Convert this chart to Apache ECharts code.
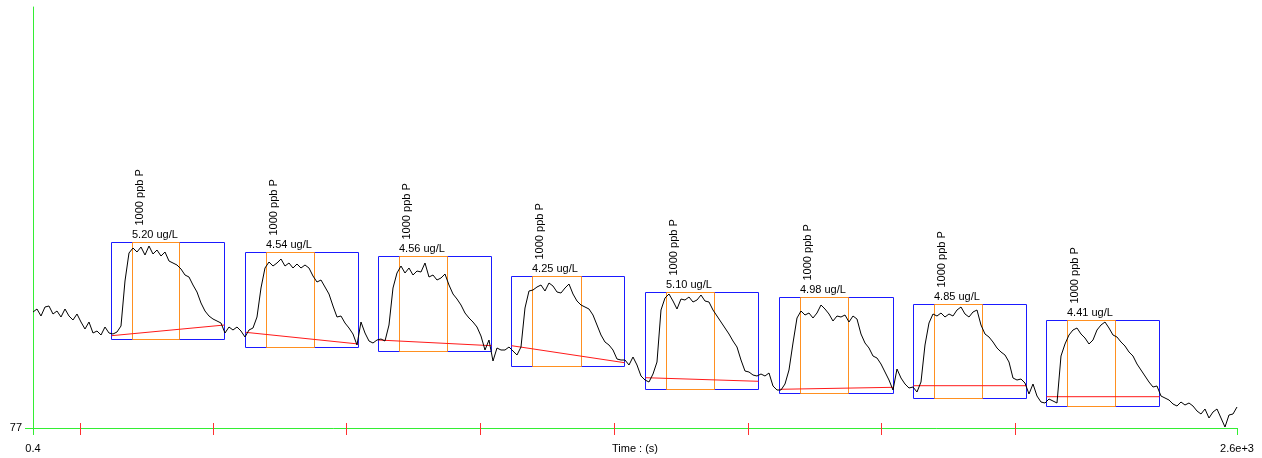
<!DOCTYPE html>
<html>
<head>
<meta charset="utf-8">
<title>Time : (s)</title>
<script src="https://cdn.jsdelivr.net/npm/echarts@6/dist/echarts.min.js"></script>
<style>
  html, body { margin: 0; padding: 0; background: #fff; }
  #chart { width: 1262px; height: 458px; }
</style>
</head>
<body>
<div id="chart"></div>
<script>
// Signal trace, sampled every timeStep seconds starting at startTime
const startTime = 0.4;
const timeStep = 8.6365;
const signal = [
  193,196,189,198,199,191,194,188,196,189,
  185,191,183,176,183,172,174,170,178,172,
  171,173,179,224,252,257,253,258,250,259,
  251,255,249,253,244,242,240,236,230,228,
  220,213,202,194,189,186,184,182,172,178,
  175,178,174,168,175,177,188,217,237,243,
  239,242,246,239,242,237,241,237,240,237,
  229,223,225,218,211,199,188,189,182,177,
  171,160,183,172,164,162,165,166,164,180,
  217,232,239,232,237,230,234,233,242,228,
  230,225,227,231,220,211,206,200,192,187,
  183,178,169,155,165,144,157,155,155,158,
  154,150,158,197,214,215,218,220,214,222,
  219,213,212,217,221,211,204,200,198,196,
  190,180,170,163,160,155,146,145,145,140,
  148,140,129,125,123,131,143,195,207,211,
  204,196,206,205,208,203,205,210,204,203,
  195,189,183,177,171,164,158,145,134,133,
  130,129,131,129,132,119,115,115,121,135,
  162,187,194,190,192,187,192,200,196,191,
  184,189,188,190,183,189,186,171,162,157,
  149,147,141,133,125,115,136,127,121,117,
  118,113,123,160,182,191,189,192,188,191,
  189,195,198,191,188,193,195,180,171,168,
  163,157,153,150,143,127,125,126,122,111,
  121,109,103,102,106,104,102,149,161,170,
  175,177,171,167,161,165,175,180,183,177,
  170,168,163,159,153,149,141,135,129,123,
  118,119,109,107,105,101,99,103,100,102,
  99,94,91,96,87,93,96,87,78,90,
  91,98
];

// Integration windows per peak (s) and box extents (signal units)
const peakStart   = [168.2, 458.1, 746.0, 1033.1, 1322.4, 1611.8, 1899.8, 2187.6];
const peakEnd     = [412.8, 702.8, 989.3, 1277.1, 1566.4, 1857.9, 2144.4, 2432.3];
const windowStart = [213.5, 503.5, 791.3, 1078.5, 1367.8, 1655.8, 1945.1, 2233.6];
const windowEnd   = [316.3, 606.5, 894.3, 1183.6, 1471.4, 1760.8, 2048.8, 2336.6];
const boxTop      = [262.7, 253.3, 249.0, 228.7, 212.7, 207.7, 201.3, 184.7];
const boxBottom   = [165.7, 158.3, 154.3, 139.0, 115.7, 111.7, 107.0, 99.0];
const baseLeft    = [169.3, 172.7, 165.0, 159.3, 127.3, 115.7, 119.3, 108.3];
const baseRight   = [180.0, 161.0, 159.3, 142.3, 123.7, 117.7, 119.3, 108.3];
const concentrations = [5.20, 4.54, 4.56, 4.25, 5.10, 4.98, 4.85, 4.41];
const standards = ['1000 ppb P', '1000 ppb P', '1000 ppb P', '1000 ppb P',
                   '1000 ppb P', '1000 ppb P', '1000 ppb P', '1000 ppb P'];
const concUnit = 'ug/L';

// Axis extents and marks
const timeMin = 0.4, timeMax = 2600;
const signalMin = 77, signalMax = 498;
const endLabels = { min: '0.4', max: '2.6e+3' };
const minorTicks = [102.5, 389.7, 677.7, 967.1, 1256.4, 1544.2, 1831.4, 2121.3];

const FONT = "'Liberation Sans', Arial, sans-serif";
const GREEN = '#33ee33';
const BLUE = '#1a1aff';
const ORANGE = '#ff9020';
const RED = '#ff1a1a';
const INK = '#000';

const traceData = signal.map((v, i) => [startTime + i * timeStep, v]);
const peakData = peakStart.map((s, i) => [
  s, peakEnd[i], windowStart[i], windowEnd[i],
  boxBottom[i], boxTop[i], baseLeft[i], baseRight[i]
]);

const crisp = v => Math.round(v) + 0.5;

function renderPeak(params, api) {
  const i = params.dataIndex;
  const x0 = api.value(0), x1 = api.value(1), w0 = api.value(2), w1 = api.value(3);
  const yb = api.value(4), yt = api.value(5), b0 = api.value(6), b1 = api.value(7);
  const tl = api.coord([x0, yt]), br = api.coord([x1, yb]);
  const wl = api.coord([w0, yt]), wr = api.coord([w1, yb]);
  const bl = api.coord([x0, b0]), brr = api.coord([x1, b1]);
  const L = crisp(tl[0]), T = crisp(tl[1]), R = crisp(br[0]), B = crisp(br[1]);
  const WL = crisp(wl[0]), WR = crisp(wr[0]);
  return {
    type: 'group',
    children: [
      { type: 'polyline', shape: { points: [[L, T], [R, T], [R, B], [L, B], [L, T]] },
        style: { fill: 'none', stroke: BLUE, lineWidth: 1 } },
      { type: 'polyline', shape: { points: [[WL, T], [WR, T], [WR, B], [WL, B], [WL, T]] },
        style: { fill: 'none', stroke: ORANGE, lineWidth: 1 } },
      { type: 'line', shape: { x1: L, y1: bl[1], x2: R, y2: brr[1] },
        style: { stroke: RED, lineWidth: 1 } },
      { type: 'text', x: WL - 0.5, y: T - 2,
        style: { text: concentrations[i].toFixed(2) + ' ' + concUnit, font: '11px ' + FONT,
                 fill: INK, textAlign: 'left', textVerticalAlign: 'bottom' } },
      { type: 'text', x: WL + 7, y: T - 17, rotation: Math.PI / 2,
        style: { text: standards[i], font: '11px ' + FONT,
                 fill: INK, textAlign: 'left', textVerticalAlign: 'middle' } }
    ]
  };
}

const chart = echarts.init(document.getElementById('chart'), null, { renderer: 'canvas' });
chart.setOption({
  animation: false,
  backgroundColor: '#fff',
  grid: { left: 33, right: 25, top: 7, bottom: 30, containLabel: false, outerBoundsMode: 'none' },
  xAxis: [
    {
      type: 'value', min: timeMin, max: timeMax, position: 'bottom',
      name: 'Time : (s)', nameLocation: 'middle', nameGap: 15, nameMoveOverlap: false,
      nameTextStyle: { fontFamily: FONT, fontSize: 11, color: INK, verticalAlign: 'top' },
      axisLine: { show: true, onZero: false, lineStyle: { color: GREEN, width: 1, opacity: 1 } },
      axisTick: { show: true, customValues: [timeMin, timeMax], length: 7,
                  lineStyle: { color: GREEN, width: 1 } },
      axisLabel: { show: true, customValues: [timeMin, timeMax], margin: 15,
                   fontFamily: FONT, fontSize: 11, color: INK,
                   formatter: v => (v === timeMax ? endLabels.max : endLabels.min) },
      splitLine: { show: false }
    },
    {
      type: 'value', min: timeMin, max: timeMax, position: 'bottom', offset: -5,
      axisLine: { show: false },
      axisTick: { show: true, customValues: minorTicks, length: 12,
                  lineStyle: { color: '#ff3030', width: 1 } },
      axisLabel: { show: false },
      splitLine: { show: false }
    }
  ],
  yAxis: {
    type: 'value', min: signalMin, max: signalMax,
    axisLine: { show: true, onZero: false, lineStyle: { color: GREEN, width: 1, opacity: 1 } },
    axisTick: { show: true, customValues: [signalMin], length: 8,
                lineStyle: { color: GREEN, width: 1 } },
    axisLabel: { show: true, customValues: [signalMin], margin: 11,
                 fontFamily: FONT, fontSize: 11, color: INK },
    splitLine: { show: false }
  },
  series: [
    {
      type: 'custom', xAxisIndex: 0, renderItem: renderPeak,
      data: peakData, silent: true, z: 2, clip: false
    },
    {
      type: 'line', xAxisIndex: 0, data: traceData, showSymbol: false,
      lineStyle: { color: '#000', width: 1 }, itemStyle: { color: '#000' }, silent: true, z: 3
    }
  ]
});
</script>
</body>
</html>
